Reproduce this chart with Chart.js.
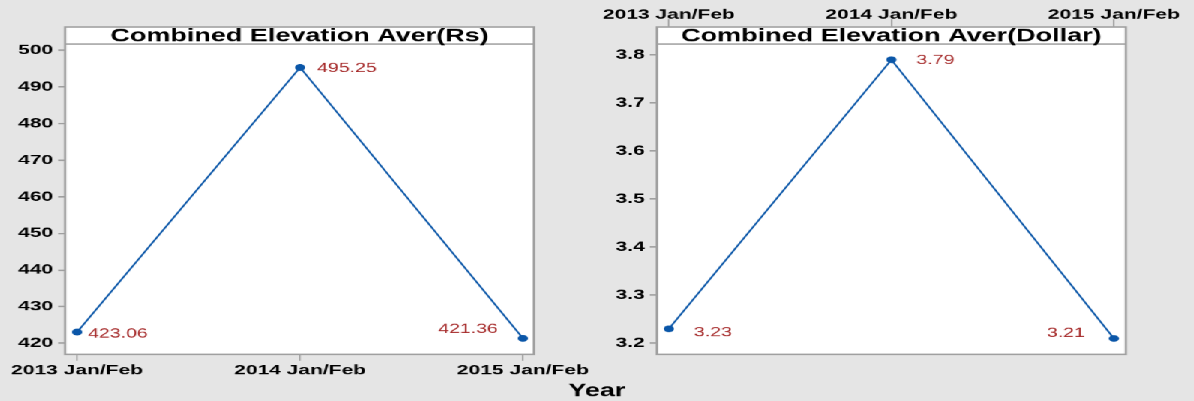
<!DOCTYPE html>
<html><head><meta charset="utf-8">
<script src="https://cdn.jsdelivr.net/npm/chart.js@4.4.1/dist/chart.umd.min.js"></script>
<style>
html,body{margin:0;padding:0;background:#e5e5e5;overflow:hidden;width:1194px;height:401px;}
#stage{position:absolute;left:0;top:0;width:796px;height:401px;transform:scaleX(1.5);transform-origin:0 0;}
canvas{position:absolute;left:0;top:0;width:796px;height:401px;}
</style></head><body>
<div id="stage">
  <canvas id="c1" width="796" height="401"></canvas>
  <canvas id="c2" width="796" height="401"></canvas>
</div>
<script>
// ---- data ----
const categories = ['2013 Jan/Feb', '2014 Jan/Feb', '2015 Jan/Feb'];
const rsValues = [423.06, 495.25, 421.36];
const dollarValues = [3.23, 3.79, 3.21];
const rsTicks = [420, 430, 440, 450, 460, 470, 480, 490, 500];
const dollarTicks = [3.2, 3.3, 3.4, 3.5, 3.6, 3.7, 3.8];
const rsTitle = 'Combined Elevation Aver(Rs)';
const dollarTitle = 'Combined Elevation Aver(Dollar)';
const xAxisTitle = 'Year';

const FONT = '"Liberation Sans", Arial, sans-serif';
const GREY = '#a0a0a0';
const LINE = '#0a56a8';
const LABEL = '#a62a2a';

const panelPlugin = {
  id: 'panel',
  beforeDraw(chart, args, o) {
    const ctx = chart.ctx, a = chart.chartArea;
    ctx.save();
    ctx.fillStyle = '#ffffff';
    ctx.fillRect(a.left, a.top, a.right - a.left, a.bottom - a.top);
    ctx.restore();
  },
  afterDatasetsDraw(chart, args, o) {
    const ctx = chart.ctx, a = chart.chartArea;
    ctx.save();
    ctx.fillStyle = '#ffffff';
    ctx.fillRect(a.left, a.top, a.right - a.left, o.strip);
    ctx.strokeStyle = GREY;
    ctx.lineWidth = 1.3;
    ctx.beginPath();
    ctx.moveTo(a.left, a.top + o.strip);
    ctx.lineTo(a.right, a.top + o.strip);
    ctx.stroke();
    ctx.lineWidth = 1.6;
    ctx.strokeRect(a.left, a.top, a.right - a.left, a.bottom - a.top);
    ctx.fillStyle = '#000';
    ctx.font = 'bold 18px ' + FONT;
    ctx.textAlign = 'center';
    ctx.textBaseline = 'middle';
    ctx.fillText(o.title, (a.left + a.right) / 2, a.top + o.strip / 2 + 1);
    const meta = chart.getDatasetMeta(0);
    const data = chart.data.datasets[0].data;
    ctx.font = '13px ' + FONT;
    ctx.fillStyle = LABEL;
    meta.data.forEach((pt, i) => {
      const off = o.labelOffsets[i];
      ctx.textAlign = off[0] < 0 ? 'right' : 'left';
      ctx.fillText(Number(data[i].y).toFixed(o.decimals), pt.x + off[0], pt.y + off[1]);
    });
    if (o.extraText) {
      ctx.font = 'bold 18px ' + FONT;
      ctx.fillStyle = '#000';
      ctx.textAlign = 'center';
      ctx.fillText(o.extraText, o.extraX, o.extraY);
    }
    ctx.restore();
  }
};

function makeChart(id, values, ticksList, cfg) {
  return new Chart(document.getElementById(id), {
    type: 'line',
    data: {
      datasets: [{
        data: values.map((v, i) => ({ x: i, y: v })),
        borderColor: LINE,
        backgroundColor: LINE,
        borderWidth: 1.3,
        pointRadius: 3.4,
        pointBorderWidth: 0,
        pointBackgroundColor: LINE,
        tension: 0,
        clip: false
      }]
    },
    options: {
      animation: false,
      responsive: false,
      devicePixelRatio: 1.5,
      events: [],
      layout: { padding: cfg.padding },
      plugins: {
        legend: { display: false },
        tooltip: { enabled: false },
        title: { display: false },
        panel: cfg.panel
      },
      scales: {
        x: {
          type: 'linear',
          position: cfg.xPos,
          min: cfg.xMin, max: cfg.xMax,
          afterBuildTicks: (ax) => { ax.ticks = categories.map((c, i) => ({ value: i })); },
          afterFit: (ax) => { ax.height = cfg.xHeight; },
          border: { display: false },
          grid: { drawOnChartArea: false, drawTicks: true, tickLength: cfg.xTickLen, color: GREY, lineWidth: 1 },
          ticks: {
            autoSkip: false, maxRotation: 0, padding: cfg.xPad,
            color: '#000', font: { family: FONT, size: 14, weight: 'bold' },
            callback: (v) => categories[v]
          }
        },
        y: {
          type: 'linear',
          position: 'left',
          min: cfg.yMin, max: cfg.yMax,
          afterBuildTicks: (ax) => { ax.ticks = ticksList.map(v => ({ value: v })); },
          afterFit: (ax) => { ax.width = cfg.yWidth; },
          border: { display: false },
          grid: { drawOnChartArea: false, drawTicks: true, tickLength: 4.7, color: GREY, lineWidth: 1.5 },
          ticks: {
            autoSkip: false, padding: 3.3,
            color: '#000', font: { family: FONT, size: 14, weight: 'bold' },
            callback: (v) => Number(v).toFixed(cfg.yDecimals)
          }
        }
      }
    },
    plugins: [panelPlugin]
  });
}

makeChart('c1', rsValues, rsTicks, {
  padding: { left: 0, top: 27, right: 440, bottom: 0 },
  xPos: 'bottom', xHeight: 47, yWidth: 43.33, xTickLen: 6.5, xPad: 1,
  xMin: -0.0538, xMax: 2.0493, yMin: 417.0, yMax: 506.28,
  yDecimals: 0,
  panel: {
    strip: 17, title: rsTitle, decimals: 2,
    labelOffsets: [[7.3, 2], [11.3, 1], [-16.7, -9]],
    extraText: xAxisTitle, extraX: 398, extraY: 391
  }
});

makeChart('c2', dollarValues, dollarTicks, {
  padding: { left: 390, top: 0, right: 45.33, bottom: 47 },
  xPos: 'top', xHeight: 27, yWidth: 48, xTickLen: 8, xPad: -4,
  xMin: -0.0539, xMax: 2.0539, yMin: 3.177, yMax: 3.858,
  yDecimals: 1,
  panel: {
    strip: 17, title: dollarTitle, decimals: 2,
    labelOffsets: [[16.7, 4], [16.7, 1], [-19.3, -5]],
    extraText: '', extraX: 0, extraY: 0
  }
});
</script>
</body></html>
